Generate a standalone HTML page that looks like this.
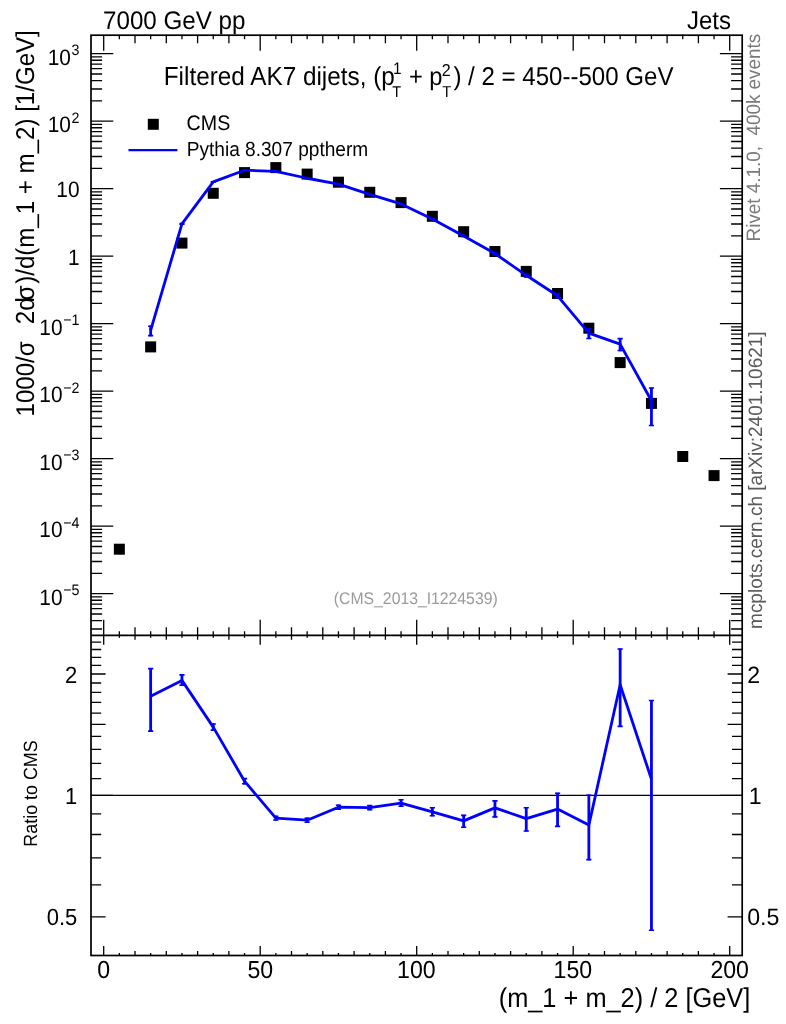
<!DOCTYPE html>
<html><head><meta charset="utf-8"><title>plot</title>
<style>html,body{margin:0;padding:0;background:#fff}svg{display:block;will-change:transform}</style></head>
<body>
<svg text-rendering="geometricPrecision" width="786" height="1024" viewBox="0 0 786 1024" font-family="&quot;Liberation Sans&quot;, sans-serif">
<rect width="786" height="1024" fill="#fff"/>
<path d="M103.70 35.20L103.70 50.70M103.70 619.80L103.70 644.80M103.70 946.00L103.70 955.50M119.35 35.20L119.35 39.20M119.35 631.30L119.35 637.80M119.35 953.00L119.35 955.50M135.00 35.20L135.00 43.20M135.00 627.30L135.00 639.80M135.00 951.00L135.00 955.50M150.65 35.20L150.65 39.20M150.65 631.30L150.65 637.80M150.65 953.00L150.65 955.50M166.30 35.20L166.30 43.20M166.30 627.30L166.30 639.80M166.30 951.00L166.30 955.50M181.95 35.20L181.95 39.20M181.95 631.30L181.95 637.80M181.95 953.00L181.95 955.50M197.60 35.20L197.60 43.20M197.60 627.30L197.60 639.80M197.60 951.00L197.60 955.50M213.25 35.20L213.25 39.20M213.25 631.30L213.25 637.80M213.25 953.00L213.25 955.50M228.90 35.20L228.90 43.20M228.90 627.30L228.90 639.80M228.90 951.00L228.90 955.50M244.55 35.20L244.55 39.20M244.55 631.30L244.55 637.80M244.55 953.00L244.55 955.50M260.20 35.20L260.20 50.70M260.20 619.80L260.20 644.80M260.20 946.00L260.20 955.50M275.85 35.20L275.85 39.20M275.85 631.30L275.85 637.80M275.85 953.00L275.85 955.50M291.50 35.20L291.50 43.20M291.50 627.30L291.50 639.80M291.50 951.00L291.50 955.50M307.15 35.20L307.15 39.20M307.15 631.30L307.15 637.80M307.15 953.00L307.15 955.50M322.80 35.20L322.80 43.20M322.80 627.30L322.80 639.80M322.80 951.00L322.80 955.50M338.45 35.20L338.45 39.20M338.45 631.30L338.45 637.80M338.45 953.00L338.45 955.50M354.10 35.20L354.10 43.20M354.10 627.30L354.10 639.80M354.10 951.00L354.10 955.50M369.75 35.20L369.75 39.20M369.75 631.30L369.75 637.80M369.75 953.00L369.75 955.50M385.40 35.20L385.40 43.20M385.40 627.30L385.40 639.80M385.40 951.00L385.40 955.50M401.05 35.20L401.05 39.20M401.05 631.30L401.05 637.80M401.05 953.00L401.05 955.50M416.70 35.20L416.70 50.70M416.70 619.80L416.70 644.80M416.70 946.00L416.70 955.50M432.35 35.20L432.35 39.20M432.35 631.30L432.35 637.80M432.35 953.00L432.35 955.50M448.00 35.20L448.00 43.20M448.00 627.30L448.00 639.80M448.00 951.00L448.00 955.50M463.65 35.20L463.65 39.20M463.65 631.30L463.65 637.80M463.65 953.00L463.65 955.50M479.30 35.20L479.30 43.20M479.30 627.30L479.30 639.80M479.30 951.00L479.30 955.50M494.95 35.20L494.95 39.20M494.95 631.30L494.95 637.80M494.95 953.00L494.95 955.50M510.60 35.20L510.60 43.20M510.60 627.30L510.60 639.80M510.60 951.00L510.60 955.50M526.25 35.20L526.25 39.20M526.25 631.30L526.25 637.80M526.25 953.00L526.25 955.50M541.90 35.20L541.90 43.20M541.90 627.30L541.90 639.80M541.90 951.00L541.90 955.50M557.55 35.20L557.55 39.20M557.55 631.30L557.55 637.80M557.55 953.00L557.55 955.50M573.20 35.20L573.20 50.70M573.20 619.80L573.20 644.80M573.20 946.00L573.20 955.50M588.85 35.20L588.85 39.20M588.85 631.30L588.85 637.80M588.85 953.00L588.85 955.50M604.50 35.20L604.50 43.20M604.50 627.30L604.50 639.80M604.50 951.00L604.50 955.50M620.15 35.20L620.15 39.20M620.15 631.30L620.15 637.80M620.15 953.00L620.15 955.50M635.80 35.20L635.80 43.20M635.80 627.30L635.80 639.80M635.80 951.00L635.80 955.50M651.45 35.20L651.45 39.20M651.45 631.30L651.45 637.80M651.45 953.00L651.45 955.50M667.10 35.20L667.10 43.20M667.10 627.30L667.10 639.80M667.10 951.00L667.10 955.50M682.75 35.20L682.75 39.20M682.75 631.30L682.75 637.80M682.75 953.00L682.75 955.50M698.40 35.20L698.40 43.20M698.40 627.30L698.40 639.80M698.40 951.00L698.40 955.50M714.05 35.20L714.05 39.20M714.05 631.30L714.05 637.80M714.05 953.00L714.05 955.50M729.70 35.20L729.70 50.70M729.70 619.80L729.70 644.80M729.70 946.00L729.70 955.50M91.00 628.99L102.10 628.99M731.10 628.99L742.20 628.99M91.00 620.56L102.10 620.56M731.10 620.56L742.20 620.56M91.00 614.02L102.10 614.02M731.10 614.02L742.20 614.02M91.00 608.67L102.10 608.67M731.10 608.67L742.20 608.67M91.00 604.16L102.10 604.16M731.10 604.16L742.20 604.16M91.00 600.24L102.10 600.24M731.10 600.24L742.20 600.24M91.00 596.79L102.10 596.79M731.10 596.79L742.20 596.79M91.00 593.70L113.30 593.70M719.90 593.70L742.20 593.70M91.00 573.38L102.10 573.38M731.10 573.38L742.20 573.38M91.00 561.49L102.10 561.49M731.10 561.49L742.20 561.49M91.00 553.06L102.10 553.06M731.10 553.06L742.20 553.06M91.00 546.52L102.10 546.52M731.10 546.52L742.20 546.52M91.00 541.17L102.10 541.17M731.10 541.17L742.20 541.17M91.00 536.66L102.10 536.66M731.10 536.66L742.20 536.66M91.00 532.74L102.10 532.74M731.10 532.74L742.20 532.74M91.00 529.29L102.10 529.29M731.10 529.29L742.20 529.29M91.00 526.20L113.30 526.20M719.90 526.20L742.20 526.20M91.00 505.88L102.10 505.88M731.10 505.88L742.20 505.88M91.00 493.99L102.10 493.99M731.10 493.99L742.20 493.99M91.00 485.56L102.10 485.56M731.10 485.56L742.20 485.56M91.00 479.02L102.10 479.02M731.10 479.02L742.20 479.02M91.00 473.67L102.10 473.67M731.10 473.67L742.20 473.67M91.00 469.16L102.10 469.16M731.10 469.16L742.20 469.16M91.00 465.24L102.10 465.24M731.10 465.24L742.20 465.24M91.00 461.79L102.10 461.79M731.10 461.79L742.20 461.79M91.00 458.70L113.30 458.70M719.90 458.70L742.20 458.70M91.00 438.38L102.10 438.38M731.10 438.38L742.20 438.38M91.00 426.49L102.10 426.49M731.10 426.49L742.20 426.49M91.00 418.06L102.10 418.06M731.10 418.06L742.20 418.06M91.00 411.52L102.10 411.52M731.10 411.52L742.20 411.52M91.00 406.17L102.10 406.17M731.10 406.17L742.20 406.17M91.00 401.66L102.10 401.66M731.10 401.66L742.20 401.66M91.00 397.74L102.10 397.74M731.10 397.74L742.20 397.74M91.00 394.29L102.10 394.29M731.10 394.29L742.20 394.29M91.00 391.20L113.30 391.20M719.90 391.20L742.20 391.20M91.00 370.88L102.10 370.88M731.10 370.88L742.20 370.88M91.00 358.99L102.10 358.99M731.10 358.99L742.20 358.99M91.00 350.56L102.10 350.56M731.10 350.56L742.20 350.56M91.00 344.02L102.10 344.02M731.10 344.02L742.20 344.02M91.00 338.67L102.10 338.67M731.10 338.67L742.20 338.67M91.00 334.16L102.10 334.16M731.10 334.16L742.20 334.16M91.00 330.24L102.10 330.24M731.10 330.24L742.20 330.24M91.00 326.79L102.10 326.79M731.10 326.79L742.20 326.79M91.00 323.70L113.30 323.70M719.90 323.70L742.20 323.70M91.00 303.38L102.10 303.38M731.10 303.38L742.20 303.38M91.00 291.49L102.10 291.49M731.10 291.49L742.20 291.49M91.00 283.06L102.10 283.06M731.10 283.06L742.20 283.06M91.00 276.52L102.10 276.52M731.10 276.52L742.20 276.52M91.00 271.17L102.10 271.17M731.10 271.17L742.20 271.17M91.00 266.66L102.10 266.66M731.10 266.66L742.20 266.66M91.00 262.74L102.10 262.74M731.10 262.74L742.20 262.74M91.00 259.29L102.10 259.29M731.10 259.29L742.20 259.29M91.00 256.20L113.30 256.20M719.90 256.20L742.20 256.20M91.00 235.88L102.10 235.88M731.10 235.88L742.20 235.88M91.00 223.99L102.10 223.99M731.10 223.99L742.20 223.99M91.00 215.56L102.10 215.56M731.10 215.56L742.20 215.56M91.00 209.02L102.10 209.02M731.10 209.02L742.20 209.02M91.00 203.67L102.10 203.67M731.10 203.67L742.20 203.67M91.00 199.16L102.10 199.16M731.10 199.16L742.20 199.16M91.00 195.24L102.10 195.24M731.10 195.24L742.20 195.24M91.00 191.79L102.10 191.79M731.10 191.79L742.20 191.79M91.00 188.70L113.30 188.70M719.90 188.70L742.20 188.70M91.00 168.38L102.10 168.38M731.10 168.38L742.20 168.38M91.00 156.49L102.10 156.49M731.10 156.49L742.20 156.49M91.00 148.06L102.10 148.06M731.10 148.06L742.20 148.06M91.00 141.52L102.10 141.52M731.10 141.52L742.20 141.52M91.00 136.17L102.10 136.17M731.10 136.17L742.20 136.17M91.00 131.66L102.10 131.66M731.10 131.66L742.20 131.66M91.00 127.74L102.10 127.74M731.10 127.74L742.20 127.74M91.00 124.29L102.10 124.29M731.10 124.29L742.20 124.29M91.00 121.20L113.30 121.20M719.90 121.20L742.20 121.20M91.00 100.88L102.10 100.88M731.10 100.88L742.20 100.88M91.00 88.99L102.10 88.99M731.10 88.99L742.20 88.99M91.00 80.56L102.10 80.56M731.10 80.56L742.20 80.56M91.00 74.02L102.10 74.02M731.10 74.02L742.20 74.02M91.00 68.67L102.10 68.67M731.10 68.67L742.20 68.67M91.00 64.16L102.10 64.16M731.10 64.16L742.20 64.16M91.00 60.24L102.10 60.24M731.10 60.24L742.20 60.24M91.00 56.79L102.10 56.79M731.10 56.79L742.20 56.79M91.00 53.70L113.30 53.70M719.90 53.70L742.20 53.70M91.00 916.80L105.60 916.80M727.60 916.80L742.20 916.80M91.00 884.87L101.20 884.87M732.00 884.87L742.20 884.87M91.00 857.87L101.20 857.87M732.00 857.87L742.20 857.87M91.00 834.48L101.20 834.48M732.00 834.48L742.20 834.48M91.00 813.85L101.20 813.85M732.00 813.85L742.20 813.85M91.00 795.40L113.00 795.40M720.20 795.40L742.20 795.40M91.00 778.71L101.20 778.71M732.00 778.71L742.20 778.71M91.00 763.47L101.20 763.47M732.00 763.47L742.20 763.47M91.00 749.45L101.20 749.45M732.00 749.45L742.20 749.45M91.00 736.47L101.20 736.47M732.00 736.47L742.20 736.47M91.00 724.39L105.60 724.39M727.60 724.39L742.20 724.39M91.00 713.08L101.20 713.08M732.00 713.08L742.20 713.08M91.00 702.46L101.20 702.46M732.00 702.46L742.20 702.46M91.00 692.45L101.20 692.45M732.00 692.45L742.20 692.45M91.00 682.98L101.20 682.98M732.00 682.98L742.20 682.98M91.00 674.00L105.60 674.00M727.60 674.00L742.20 674.00M91.00 665.45L101.20 665.45M732.00 665.45L742.20 665.45M91.00 657.31L101.20 657.31M732.00 657.31L742.20 657.31M91.00 649.52L101.20 649.52M732.00 649.52L742.20 649.52M91.00 642.07L101.20 642.07M732.00 642.07L742.20 642.07" stroke="#000" stroke-width="1.3" fill="none"/>
<line x1="91.0" y1="795.4" x2="742.2" y2="795.4" stroke="#000" stroke-width="1.3"/>
<rect x="91.0" y="35.2" width="651.20" height="920.30" fill="none" stroke="#000" stroke-width="1.7"/>
<line x1="91.0" y1="635.3" x2="742.2" y2="635.3" stroke="#000" stroke-width="1.7"/>
<rect x="113.85" y="543.70" width="11" height="11" fill="#000"/>
<rect x="145.15" y="341.40" width="11" height="11" fill="#000"/>
<rect x="176.45" y="237.60" width="11" height="11" fill="#000"/>
<rect x="207.75" y="187.80" width="11" height="11" fill="#000"/>
<rect x="239.05" y="167.10" width="11" height="11" fill="#000"/>
<rect x="270.35" y="162.10" width="11" height="11" fill="#000"/>
<rect x="301.65" y="168.60" width="11" height="11" fill="#000"/>
<rect x="332.95" y="176.70" width="11" height="11" fill="#000"/>
<rect x="364.25" y="186.80" width="11" height="11" fill="#000"/>
<rect x="395.55" y="197.10" width="11" height="11" fill="#000"/>
<rect x="426.85" y="210.80" width="11" height="11" fill="#000"/>
<rect x="458.15" y="226.20" width="11" height="11" fill="#000"/>
<rect x="489.45" y="246.00" width="11" height="11" fill="#000"/>
<rect x="520.75" y="265.90" width="11" height="11" fill="#000"/>
<rect x="552.05" y="288.00" width="11" height="11" fill="#000"/>
<rect x="583.35" y="322.70" width="11" height="11" fill="#000"/>
<rect x="614.65" y="357.10" width="11" height="11" fill="#000"/>
<rect x="645.95" y="397.90" width="11" height="11" fill="#000"/>
<rect x="677.25" y="451.00" width="11" height="11" fill="#000"/>
<rect x="708.55" y="470.10" width="11" height="11" fill="#000"/>
<polyline points="150.65,330.31 181.95,223.85 213.25,181.87 244.55,170.22 275.85,171.42 307.15,178.25 338.45,184.18 369.75,194.34 401.05,203.91 432.35,219.04 463.65,235.97 494.95,253.59 526.25,275.28 557.55,295.79 588.85,333.17 620.15,344.07 651.45,400.71" fill="none" stroke="#0000ff" stroke-width="2.8" stroke-linejoin="round"/>
<polyline points="150.65,696.30 181.95,680.40 213.25,727.10 244.55,781.20 275.85,818.20 307.15,820.20 338.45,807.20 369.75,807.60 401.05,803.20 432.35,811.80 463.65,820.90 494.95,807.90 526.25,818.60 557.55,809.10 588.85,825.10 620.15,684.70 651.45,779.30" fill="none" stroke="#0000ff" stroke-width="2.8" stroke-linejoin="round"/>
<path d="M150.65 325.58L150.65 336.24M150.65 668.00L150.65 731.70M181.95 222.83L181.95 224.76M181.95 674.30L181.95 685.80M213.25 181.25L213.25 182.47M213.25 723.40L213.25 730.70M244.55 169.69L244.55 170.76M244.55 778.00L244.55 784.40M275.85 171.01L275.85 171.82M275.85 815.80L275.85 820.60M307.15 177.82L307.15 178.69M307.15 817.60L307.15 822.80M338.45 183.74L338.45 184.61M338.45 804.60L338.45 809.80M369.75 193.91L369.75 194.78M369.75 805.00L369.75 810.20M401.05 203.24L401.05 204.51M401.05 799.20L401.05 806.80M432.35 218.28L432.35 219.80M432.35 807.20L432.35 816.30M463.65 234.95L463.65 237.12M463.65 814.80L463.65 827.80M494.95 252.32L494.95 255.20M494.95 800.30L494.95 817.50M526.25 273.38L526.25 277.46M526.25 807.20L526.25 831.60M557.55 293.05L557.55 298.79M557.55 792.70L557.55 827.00M588.85 328.07L588.85 339.05M588.85 794.60L588.85 860.20M620.15 338.00L620.15 351.15M620.15 648.40L620.15 727.00M651.45 387.42L651.45 426.06M651.45 699.90L651.45 930.80" stroke="#0000ff" stroke-width="2.8" fill="none"/>
<path d="M148.05 326.18L153.25 326.18M148.05 335.64L153.25 335.64M148.05 668.60L153.25 668.60M148.05 731.10L153.25 731.10M179.35 223.43L184.55 223.43M179.35 224.16L184.55 224.16M179.35 674.90L184.55 674.90M179.35 685.20L184.55 685.20M210.65 181.85L215.85 181.85M210.65 181.87L215.85 181.87M210.65 724.00L215.85 724.00M210.65 730.10L215.85 730.10M241.95 170.29L247.15 170.29M241.95 170.16L247.15 170.16M241.95 778.60L247.15 778.60M241.95 783.80L247.15 783.80M273.25 171.61L278.45 171.61M273.25 171.22L278.45 171.22M273.25 816.40L278.45 816.40M273.25 820.00L278.45 820.00M304.55 178.42L309.75 178.42M304.55 178.09L309.75 178.09M304.55 818.20L309.75 818.20M304.55 822.20L309.75 822.20M335.85 184.34L341.05 184.34M335.85 184.01L341.05 184.01M335.85 805.20L341.05 805.20M335.85 809.20L341.05 809.20M367.15 194.51L372.35 194.51M367.15 194.18L372.35 194.18M367.15 805.60L372.35 805.60M367.15 809.60L372.35 809.60M398.45 203.84L403.65 203.84M398.45 203.91L403.65 203.91M398.45 799.80L403.65 799.80M398.45 806.20L403.65 806.20M429.75 218.88L434.95 218.88M429.75 219.20L434.95 219.20M429.75 807.80L434.95 807.80M429.75 815.70L434.95 815.70M461.05 235.55L466.25 235.55M461.05 236.52L466.25 236.52M461.05 815.40L466.25 815.40M461.05 827.20L466.25 827.20M492.35 252.92L497.55 252.92M492.35 254.60L497.55 254.60M492.35 800.90L497.55 800.90M492.35 816.90L497.55 816.90M523.65 273.98L528.85 273.98M523.65 276.86L528.85 276.86M523.65 807.80L528.85 807.80M523.65 831.00L528.85 831.00M554.95 293.65L560.15 293.65M554.95 298.19L560.15 298.19M554.95 793.30L560.15 793.30M554.95 826.40L560.15 826.40M586.25 328.67L591.45 328.67M586.25 338.45L591.45 338.45M586.25 795.20L591.45 795.20M586.25 859.60L591.45 859.60M617.55 338.60L622.75 338.60M617.55 350.55L622.75 350.55M617.55 649.00L622.75 649.00M617.55 726.40L622.75 726.40M648.85 388.02L654.05 388.02M648.85 425.46L654.05 425.46M648.85 700.50L654.05 700.50M648.85 930.20L654.05 930.20" stroke="#0000ff" stroke-width="1.6" fill="none"/>
<rect x="147.8" y="118.8" width="11" height="11" fill="#000"/>
<line x1="128.5" y1="150.1" x2="177.4" y2="150.1" stroke="#0000ff" stroke-width="2.2"/>
<text transform="translate(186.62,130.40) scale(0.9346,1)" font-size="21.00" fill="#000" xml:space="preserve">CMS</text>
<text transform="translate(186.67,155.60) scale(0.9346,1)" font-size="20.45" fill="#000" xml:space="preserve">Pythia 8.307 pptherm</text>
<text transform="translate(102.99,28.90) scale(0.9524,1)" font-size="25.40" fill="#000" xml:space="preserve">7000 GeV pp</text>
<text transform="translate(687.04,28.80) scale(0.9346,1)" font-size="25.66" fill="#000" xml:space="preserve">Jets</text>
<text transform="translate(163.75,84.70) scale(0.9346,1)" font-size="26.03" fill="#000" xml:space="preserve">Filtered AK7 dijets, (p</text>
<text transform="translate(392.9,74.2) scale(0.93,1)" font-size="16.6">1</text>
<text transform="translate(392.31,96.60) scale(0.9346,1)" font-size="15.58" fill="#000" xml:space="preserve">T</text>
<text transform="translate(408.92,84.70) scale(0.9346,1)" font-size="25.36" fill="#000" xml:space="preserve">+ p</text>
<text transform="translate(441.80,75.60) scale(0.9346,1)" font-size="17.17" fill="#000" xml:space="preserve">2</text>
<text transform="translate(442.21,96.60) scale(0.9346,1)" font-size="15.77" fill="#000" xml:space="preserve">T</text>
<text transform="translate(453.38,84.70) scale(0.9346,1)" font-size="25.76" fill="#000" xml:space="preserve">) / 2 = 450--500 GeV</text>
<text transform="translate(333.85,604.20) scale(0.9346,1)" font-size="16.87" fill="#9a9a9a" xml:space="preserve">(CMS_2013_I1224539)</text>
<text transform="translate(79.40,604.50) scale(0.94,1)" font-size="22.2" text-anchor="end">10<tspan font-size="15.2" dy="-9.4" dx="0.6">−5</tspan></text>
<text transform="translate(79.40,537.00) scale(0.94,1)" font-size="22.2" text-anchor="end">10<tspan font-size="15.2" dy="-9.4" dx="0.6">−4</tspan></text>
<text transform="translate(79.40,469.50) scale(0.94,1)" font-size="22.2" text-anchor="end">10<tspan font-size="15.2" dy="-9.4" dx="0.6">−3</tspan></text>
<text transform="translate(79.40,402.00) scale(0.94,1)" font-size="22.2" text-anchor="end">10<tspan font-size="15.2" dy="-9.4" dx="0.6">−2</tspan></text>
<text transform="translate(79.40,334.50) scale(0.94,1)" font-size="22.2" text-anchor="end">10<tspan font-size="15.2" dy="-9.4" dx="0.6">−1</tspan></text>
<text transform="translate(79.60,264.50) scale(0.94,1)" font-size="22.2" text-anchor="end">1</text>
<text transform="translate(79.50,197.00) scale(0.94,1)" font-size="22.2" text-anchor="end">10</text>
<text transform="translate(79.40,132.00) scale(0.94,1)" font-size="22.2" text-anchor="end">10<tspan font-size="15.2" dy="-9.4" dx="0.6">2</tspan></text>
<text transform="translate(79.40,64.50) scale(0.94,1)" font-size="22.2" text-anchor="end">10<tspan font-size="15.2" dy="-9.4" dx="0.6">3</tspan></text>
<text transform="translate(77.30,682.60) scale(0.94,1)" font-size="23.4" text-anchor="end">2</text>
<text transform="translate(747.24,682.60) scale(0.98,1)" font-size="23.6">2</text>
<text transform="translate(77.30,804.00) scale(0.94,1)" font-size="23.4" text-anchor="end">1</text>
<text transform="translate(748.86,804.00) scale(0.98,1)" font-size="23.6">1</text>
<text transform="translate(77.30,925.40) scale(0.94,1)" font-size="23.4" text-anchor="end">0.5</text>
<text transform="translate(747.24,925.40) scale(0.98,1)" font-size="23.6">0.5</text>
<text transform="translate(97.33,978.20) scale(0.94,1)" font-size="24.6">0</text>
<text transform="translate(247.41,978.20) scale(0.94,1)" font-size="24.6">50</text>
<text transform="translate(397.09,978.20) scale(0.94,1)" font-size="24.6">100</text>
<text transform="translate(553.59,978.20) scale(0.94,1)" font-size="24.6">150</text>
<text transform="translate(710.38,978.20) scale(0.94,1)" font-size="24.6">200</text>
<text transform="translate(498.68,1006.90) scale(0.9346,1)" font-size="27.15" fill="#000" xml:space="preserve">(m_1 + m_2) / 2 [GeV]</text>
<text transform="translate(33.60,416.40) rotate(-90) scale(0.9346,1)" font-size="25.68" fill="#000" xml:space="preserve">1000/σ</text>
<text transform="translate(33.60,324.22) rotate(-90) scale(0.9346,1)" font-size="26.11" fill="#000" xml:space="preserve">2d</text>
<text transform="translate(33.60,300.38) rotate(-90) scale(0.9346,1)" font-size="26.32" fill="#000" xml:space="preserve">σ</text>
<text transform="translate(33.60,283.82) rotate(-90) scale(0.9346,1)" font-size="25.78" fill="#000" xml:space="preserve">)/d(m_1 + m_2) [1/GeV]</text>
<text transform="translate(36.50,846.63) rotate(-90) scale(0.9346,1)" font-size="19.12" fill="#000" xml:space="preserve">Ratio to CMS</text>
<text transform="translate(760.20,241.41) rotate(-90) scale(0.9709,1)" font-size="19.43" fill="#7a7a7a" xml:space="preserve">Rivet 4.1.0,  400k events</text>
<text transform="translate(762.20,628.93) rotate(-90) scale(0.9804,1)" font-size="19.36" fill="#5a5a5a" xml:space="preserve">mcplots.cern.ch [arXiv:2401.10621]</text>
</svg>
</body></html>
